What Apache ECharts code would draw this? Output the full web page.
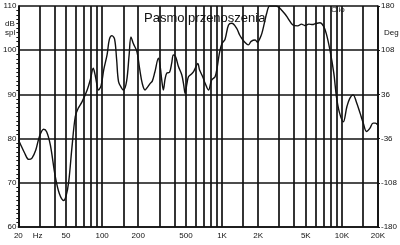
<!DOCTYPE html>
<html><head><meta charset="utf-8">
<script src="https://cdn.jsdelivr.net/npm/echarts@6/dist/echarts.min.js"></script>
<style>html,body{margin:0;padding:0;background:#fff}#c{width:400px;height:245px}</style>
</head><body><div id="c"></div>
<script>
const freqs = [20,21,22.5,24.4,26,28,30,32.5,34.5,37,40.6,44,47.7,50,52.6,56,59.7,63,67.9,75,80,84.2,88,93.3,98,103,110,115,120.8,127,132,137,145,150.7,160,168,174,182,195,205,216,228,240,252,262,275,295,305,315,324,335,346,365,380,393,410,433,462,480,492,510,525,550,577,600,628,650,690,723,771,820,875,910,936,963,1000,1060,1133,1207,1322,1400,1459,1550,1658,1750,1890,1980,2080,2150,2250,2355,2500,2800,2950,3130,3350,3550,3900,4280,4600,4900,5300,5700,5990,6580,7000,7400,7950,8560,9000,9520,10270,11000,11640,12400,13200,14200,15080,16050,17100,18200,19000,20000];
const spl = [79.7,78.5,76.8,75.3,75.6,77.5,80.5,82.1,81.5,78.5,71.5,67.5,66,67,70.2,78,85,86.8,88.3,91,93.5,95.9,94,91,92,95.5,99,102.5,103.3,102.5,98,92.9,91.5,91,93,99,103,101.5,99.7,96,92.5,91,91.7,92.5,93,95,98.2,96.3,93,91,93.5,94.8,95,97,98.9,98.5,96.3,94.4,92,90.2,92.5,94,94.5,95.1,96,97,95.5,94,92.5,91,93.3,94,96,98.2,100,101.5,102.5,105.7,106.1,105,103.5,102.7,101.8,101.2,102,102.3,101.8,102.8,103.8,106,108.3,110,110,109.8,109.1,108.2,107.2,105.7,105.5,105.9,105.6,105.9,105.8,106,106.2,105.5,103.8,100,94.8,89.5,86,83.8,87.2,89.1,89.9,88.3,85.7,83.5,81.6,82.3,83.5,83.5,83];
const gridFreqs = [20,30,40,50,60,70,80,90,100,150,200,300,400,500,600,700,800,900,1000,1500,2000,3000,4000,5000,6000,7000,8000,9000,10000,15000,20000];
const xTickValues = [20,29,50,100,200,500,1000,2000,5000,10000,20000];
const xTickLabels = ['20','Hz','50','100','200','500','1K','2K','5K','10K','20K'];
const splTicks = [60,70,80,90,100,110];
const degLabels = ['-180','-108','-36','36','108','180'];

const FONT = 'Liberation Sans, Arial, sans-serif';
const INK = '#111';
const chart = echarts.init(document.getElementById('c'), null, {renderer:'canvas'});
function xLabel(v){
  for (let i=0;i<xTickValues.length;i++){ if (Math.abs(Math.log10(v)-Math.log10(xTickValues[i]))<0.005) return xTickLabels[i]; }
  return '';
}
const option = {
  animation:false,
  backgroundColor:'#fff',
  title:{text:'Pasmo przenoszenia', left:139, top:7, textStyle:{fontFamily:'Liberation Sans, Arial', fontSize:13, fontWeight:'normal', color:INK}},
  grid:{left:18,right:22,top:6,bottom:18},
  xAxis:{type:'log', logBase:10, min:20, max:20000,
    axisLine:{show:true, lineStyle:{color:INK, width:1.6}},
    axisTick:{show:false, customValues:gridFreqs},
    splitLine:{show:true, lineStyle:{color:INK, width:1.7}},
    axisLabel:{customValues:xTickValues, formatter:xLabel, fontFamily:FONT, fontSize:8, color:INK, margin:5, showMinLabel:true, showMaxLabel:true}
  },
  yAxis:[
    {type:'value', min:60, max:110, interval:10, position:'left',
     axisLine:{show:true, lineStyle:{color:INK, width:1.6}},
     axisTick:{show:false},
     minorTick:{show:true, splitNumber:10, length:2, lineStyle:{color:INK}},
     splitLine:{show:true, lineStyle:{color:INK, width:1.7}},
     axisLabel:{fontFamily:FONT, fontSize:8, color:INK, margin:2}
    },
    {type:'value', min:60, max:110, interval:10, position:'right',
     axisLine:{show:true, lineStyle:{color:INK, width:1.6}},
     axisTick:{show:true, length:2, inside:false, lineStyle:{color:INK}},
     splitLine:{show:false},
     axisLabel:{fontFamily:FONT, fontSize:8, color:INK, margin:3,
       formatter:v=>{const i=splTicks.indexOf(v); return i>=0?degLabels[i]:'';}}
    }
  ],
  graphic:[
    {type:'text', left:5, top:19, style:{text:'dB\nspl', font:'8px '+FONT, fill:INK, lineHeight:9}},
    {type:'text', left:384, top:29, style:{text:'Deg', font:'8px '+FONT, fill:INK}},
    {type:'text', left:331, top:6, style:{text:'Clio', font:'8px '+FONT, fill:INK}}
  ],
  series:[{type:'line', data:freqs.map((f,i)=>[f,spl[i]]), showSymbol:false, smooth:0.35,
    lineStyle:{color:INK, width:1.4}, yAxisIndex:0, clip:true}]
};
chart.setOption(option);
</script></body></html>
